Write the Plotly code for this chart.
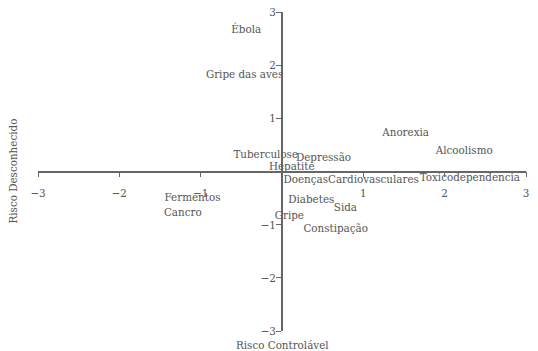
import plotly.graph_objects as go

labels = ["Ébola", "Gripe das aves", "Anorexia", "Alcoolismo", "Tuberculose", "Depressão",
          "Hepatite", "DoençasCardiovasculares", "Toxicodependencia", "Fermentos", "Cancro",
          "Diabetes", "Sida", "Gripe", "Constipação"]
risco_controlavel = [-0.44, -0.46, 1.52, 2.24, -0.20, 0.51, 0.12, 0.85, 2.31, -1.10, -1.22, 0.36, 0.78, 0.09, 0.66]
risco_desconhecido = [2.66, 1.81, 0.72, 0.38, 0.30, 0.25, 0.09, -0.17, -0.13, -0.51, -0.79, -0.53, -0.68, -0.83, -1.08]
tick_vals = [-3, -2, -1, 1, 2, 3]

FONT = "DejaVu Serif Condensed, DejaVu Serif"
TXT = "#555555"

fig = go.Figure(go.Scatter(
    x=risco_controlavel, y=risco_desconhecido, mode="text", text=labels,
    textposition="middle center", textfont=dict(family=FONT, size=11.5, color=TXT),
    hoverinfo="skip"))

axis_common = dict(range=[-3, 3], tickvals=tick_vals, showgrid=False, zeroline=False,
                   showline=True, linecolor="#666666", linewidth=1.5, ticks="outside",
                   ticklen=5, tickcolor="#666666", automargin=False,
                   tickfont=dict(family=FONT, size=11.5, color=TXT))
fig.update_layout(
    width=538, height=351,
    margin=dict(l=38, r=12, t=12, b=20),
    paper_bgcolor="white", plot_bgcolor="white",
    showlegend=False,
    xaxis=dict(anchor="free", position=0.5, domain=[0, 1], ticklabelstandoff=6, **axis_common),
    yaxis=dict(anchor="free", position=0.5, domain=[0, 1], ticklabelstandoff=-2, **axis_common),
    annotations=[
        dict(text="Risco Controlável", x=0.5, y=0, xref="paper", yref="paper",
             xanchor="center", yanchor="middle", yshift=-14, showarrow=False,
             font=dict(family=FONT, size=11.5, color=TXT)),
        dict(text="Risco Desconhecido", x=0, y=0.5, xref="paper", yref="paper",
             xanchor="center", yanchor="middle", xshift=-26, textangle=-90, showarrow=False,
             font=dict(family=FONT, size=11.5, color=TXT)),
    ],
)
fig.write_html("out.html")
